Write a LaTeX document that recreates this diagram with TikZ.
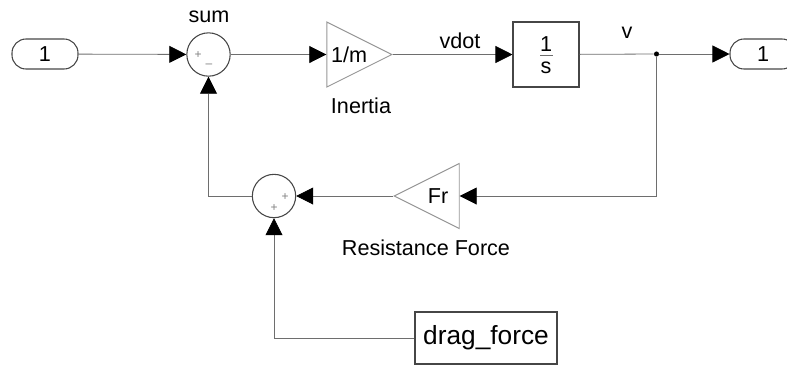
\documentclass[tikz,border=0pt]{standalone}
\usepackage{fontspec}
\setmainfont{Liberation Sans}
\usetikzlibrary{
    positioning,
    arrows.meta,
    shapes.geometric
}
\definecolor{WireGray}{RGB}{110,110,110}
\definecolor{EdgeDark}{RGB}{70,70,70}
\definecolor{GainEdge}{RGB}{150,150,150}

\begin{document}
\begin{tikzpicture}[
            x=0.75pt,
            y=-0.75pt,
            font=\fontsize{16.2}{19}\selectfont,
            >={Triangle[length=12.75pt,width=12.75pt,color=black]},
            wire/.style={->, draw=WireGray, line width=0.6pt},
            port/.style={rectangle, draw=EdgeDark, line width=0.8pt, rounded corners=10.5pt, minimum width=49.5pt, minimum height=22.5pt, inner sep=0pt},
            block/.style={rectangle, draw=EdgeDark, line width=0.8pt, align=center, inner sep=0pt},
            sumblock/.style={circle, draw=EdgeDark, line width=0.8pt, minimum size=32.5pt, inner sep=0pt},
            sign/.style={text=gray, font=\fontsize{9}{9}\selectfont, inner sep=0pt},
            gain/.style={isosceles triangle, isosceles triangle stretches, draw=GainEdge, line width=0.7pt, minimum width=48.75pt, minimum height=48.75pt, inner sep=0pt},
            junction/.style={circle, fill=black, minimum size=3.8pt, inner sep=0pt},
            label/.style={inner sep=0pt},
        ]
        \useasboundingbox (0,0) rectangle (787,365);

        % ===== forward path =====
        \node[port] (inport) at (45,54) {1};
        \node[sumblock] (sumA) at (208.5,54.5) {};
        \node[gain, anchor=apex] (inertia) at (393,54.5) {};
        \node[label] (inertiatext) at (349,55) {1/m};
        \node[block, minimum width=49.5pt, minimum height=48.75pt] (integ) at (546,54.5) {};
        \node[label] (integone) at (546,44.5) {1};
        \node[label] (integs) at (546,68) {s};
        \coordinate (fracleft) at (540,55);
        \coordinate (fracright) at (553,55);
        \node[junction] (split) at (656.5,54) {};
        \node[port] (outport) at (763,54) {1};

        \draw[wire] (inport) -- (sumA);
        \draw[wire] (sumA) -- (inertia.lower side);
        \draw[wire] (inertia.apex) -- (integ);
        \draw[draw=WireGray, line width=0.6pt] (integ) -- (split);
        \draw[wire] (split) -- (outport);
        \draw[draw=WireGray, line width=0.5pt] (fracleft) -- (fracright);

        % ===== feedback path =====
        \node[gain, shape border rotate=180, anchor=apex] (resist) at (393,196) {};
        \node[label] (resisttext) at (438,196) {Fr};
        \node[sumblock] (sumB) at (274,196) {};
        \node[block, minimum width=106.5pt, minimum height=39pt, font=\fontsize{19.7}{23}\selectfont] (drag) at (486,338) {drag\_force};

        \draw[wire] (split) |- (resist.lower side);
        \draw[wire] (resist.apex) -- (sumB);
        \draw[wire] (sumB) -| (sumA);
        \draw[wire] (drag) -| (sumB);

        % signs
        \node[sign] (plusA) at (198,55) {+};
        \node[sign] (minusA) at (209,66) {--};
        \node[sign] (plusB) at (285,197) {+};
        \node[sign] (plusC) at (274,208) {+};

        % labels
        \node[label] (sumtext) at (209,17) {sum};
        \node[label] (inertialabel) at (361,106) {Inertia};
        \node[label] (vdottext) at (460,41) {vdot};
        \node[label] (vtext) at (627,33) {v};
        \node[label] (resistlabel) at (426,248) {Resistance Force};
        \end{tikzpicture}
\end{document}
